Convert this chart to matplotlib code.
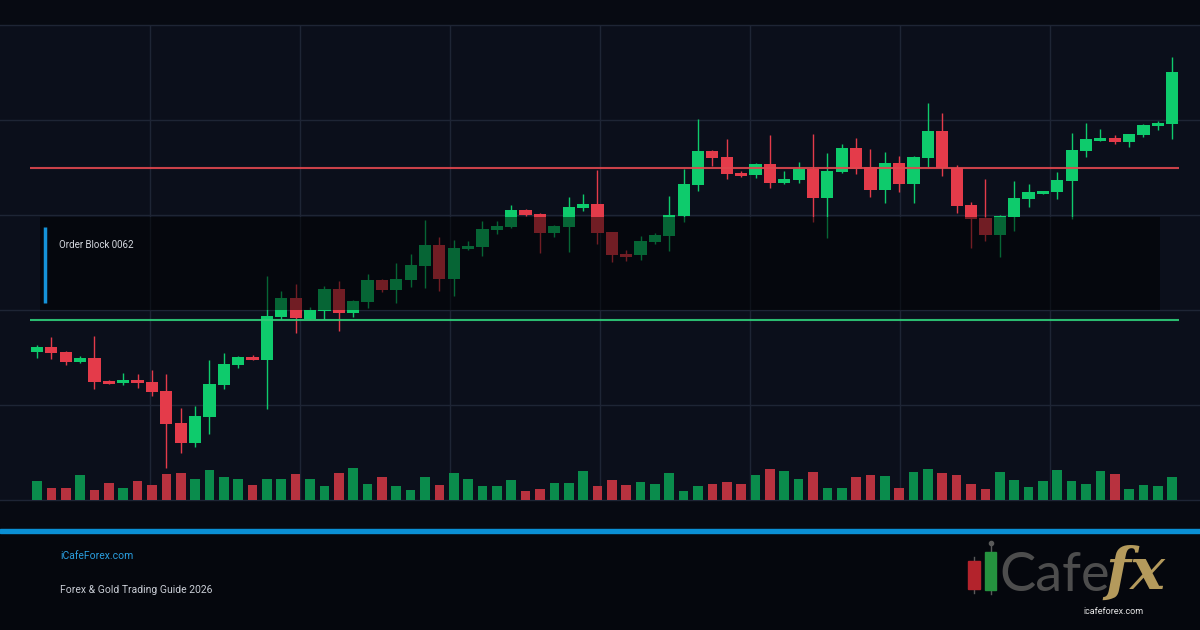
import matplotlib
matplotlib.use('Agg')
import matplotlib.pyplot as plt
from matplotlib.patches import Rectangle
from matplotlib.lines import Line2D
import numpy as np

# OHLC prices (80 candles)
opens = [2014.8, 2015.3, 2014.8, 2013.8, 2014.2, 2011.9, 2011.7, 2012.0, 2011.8, 2010.9,
         2007.7, 2005.7, 2008.3, 2011.5, 2013.5, 2014.3, 2014.0, 2018.3, 2020.2, 2018.1,
         2018.9, 2021.1, 2018.7, 2019.8, 2022.0, 2021.0, 2022.0, 2023.4, 2025.5, 2022.1,
         2025.1, 2025.3, 2027.0, 2027.3, 2029.0, 2028.6, 2026.7, 2027.3, 2029.2, 2029.6,
         2026.8, 2024.6, 2024.5, 2025.8, 2026.4, 2028.4, 2031.5, 2034.9, 2034.3, 2032.7,
         2032.5, 2033.6, 2031.7, 2032.0, 2033.1, 2030.2, 2032.8, 2035.2, 2033.3, 2031.0,
         2033.7, 2031.6, 2034.2, 2036.9, 2033.2, 2029.5, 2028.2, 2026.5, 2028.3, 2030.1,
         2030.6, 2030.8, 2031.9, 2034.9, 2035.9, 2036.2, 2035.8, 2036.5, 2037.4, 2037.6]
closes = [2015.3, 2014.7, 2013.8, 2014.2, 2011.8, 2011.6, 2012.0, 2011.7, 2010.8, 2007.6,
          2005.7, 2008.4, 2011.6, 2013.6, 2014.3, 2014.0, 2018.4, 2020.2, 2018.2, 2019.0,
          2021.1, 2018.7, 2019.9, 2022.0, 2021.0, 2022.1, 2023.5, 2025.5, 2022.1, 2025.2,
          2025.4, 2027.1, 2027.4, 2029.0, 2028.5, 2026.7, 2027.4, 2029.3, 2029.6, 2026.7,
          2024.5, 2024.3, 2025.9, 2026.5, 2028.5, 2031.6, 2034.9, 2034.2, 2032.6, 2032.4,
          2033.6, 2031.7, 2032.1, 2033.1, 2030.2, 2032.9, 2035.2, 2033.1, 2031.0, 2033.7,
          2031.6, 2034.3, 2036.9, 2033.2, 2029.4, 2028.1, 2026.5, 2028.4, 2030.2, 2030.8,
          2030.9, 2032.0, 2035.0, 2036.1, 2036.2, 2035.8, 2036.6, 2037.5, 2037.7, 2042.8]
highs = [2015.5, 2016.3, 2014.9, 2014.4, 2016.4, 2012.0, 2012.7, 2012.6, 2013.0, 2012.6,
         2009.2, 2009.4, 2014.0, 2014.7, 2014.4, 2014.5, 2022.4, 2020.9, 2021.6, 2019.3,
         2021.4, 2021.9, 2020.0, 2022.6, 2022.1, 2023.7, 2024.6, 2028.0, 2026.3, 2026.0,
         2025.9, 2027.9, 2027.9, 2029.5, 2029.1, 2028.7, 2027.5, 2030.3, 2030.6, 2033.0,
         2026.8, 2025.0, 2026.4, 2026.7, 2030.4, 2033.1, 2038.1, 2035.0, 2036.1, 2032.9,
         2033.7, 2036.5, 2032.9, 2033.8, 2036.6, 2034.7, 2035.6, 2036.2, 2035.1, 2034.8,
         2034.4, 2034.4, 2039.7, 2038.7, 2033.5, 2029.8, 2032.1, 2028.5, 2031.9, 2031.6,
         2030.9, 2032.8, 2036.7, 2037.7, 2037.1, 2036.5, 2036.6, 2037.6, 2037.9, 2044.3]
lows = [2014.2, 2014.1, 2013.5, 2013.7, 2011.1, 2011.6, 2011.5, 2011.2, 2010.4, 2003.2,
        2004.7, 2005.3, 2006.6, 2011.1, 2013.2, 2014.0, 2009.1, 2018.1, 2016.7, 2018.1,
        2018.1, 2016.9, 2018.3, 2019.2, 2020.8, 2019.7, 2021.3, 2021.2, 2020.9, 2020.4,
        2025.0, 2024.4, 2026.6, 2027.2, 2028.4, 2024.7, 2026.3, 2024.8, 2028.9, 2025.6,
        2023.8, 2023.9, 2024.0, 2025.6, 2024.9, 2027.8, 2030.9, 2033.4, 2032.1, 2032.3,
        2032.2, 2031.2, 2031.6, 2031.7, 2027.8, 2026.2, 2032.7, 2032.6, 2030.3, 2029.7,
        2030.8, 2029.7, 2033.3, 2032.4, 2028.7, 2025.2, 2025.9, 2024.3, 2026.9, 2029.3,
        2030.6, 2030.1, 2028.1, 2034.3, 2035.9, 2035.6, 2035.3, 2036.3, 2037.0, 2036.1]
volumes = [19, 12, 12, 25, 10, 17, 12, 19, 15, 26, 27, 21, 30, 23, 21, 15, 21, 21, 26, 21,
           14, 27, 32, 16, 23, 14, 10, 23, 15, 27, 21, 14, 14, 20, 9, 11, 17, 17, 29, 14,
           20, 15, 18, 16, 27, 9, 14, 16, 18, 16, 25, 31, 29, 21, 28, 12, 12, 23, 25, 24,
           12, 28, 31, 27, 25, 16, 11, 28, 20, 13, 19, 30, 19, 16, 29, 26, 11, 15, 14, 23]

resistance = 2033.2
support = 2018.0
zone_low, zone_high = 2019.0, 2028.3
zone_label = "Order Block 0062"
site_label = "iCafeForex.com"
guide_label = "Forex & Gold Trading Guide 2026"

FIG_BG = '#070a12'
CHART_BG = '#0b0f1b'
GREEN = '#0ecb6c'
RED = '#e43b4a'
VOL_GREEN = '#0a8c4c'
VOL_RED = '#b8323f'
GRID = '#1e2535'

idx = np.arange(len(opens))
o = np.array(opens)
c = np.array(closes)
up = c >= o

fig = plt.figure(figsize=(12, 6.3), dpi=100)
fig.patch.set_facecolor(FIG_BG)

# darker footer band and blue separator
fig.patches.append(Rectangle((0, 0), 1, 97 / 630, transform=fig.transFigure,
                             color='#05070d', zorder=0))
fig.patches.append(Rectangle((0, 97 / 630), 1, 4 / 630, transform=fig.transFigure,
                             color='#0a8fd4', zorder=1))

# price panel: 25px .. 500px from the top
ax = fig.add_axes([0, 130 / 630, 1, 475 / 630])
ax.set_facecolor(CHART_BG)
xmin = -37 / 14.37
xmax = xmin + 1200 / 14.37
ax.set_xlim(xmin, xmax)
ax.set_ylim(2000, 2047.5)
ax.set_xticks(xmin + np.arange(1, 8) * (xmax - xmin) / 8)
ax.set_yticks(2000 + np.arange(1, 5) * 9.5)
ax.grid(True, color=GRID, lw=1.0)
ax.tick_params(length=0, labelbottom=False, labelleft=False)
for side, s in ax.spines.items():
    if side in ('top', 'bottom'):
        s.set_color(GRID)
        s.set_linewidth(1.0)
    else:
        s.set_visible(False)

# candles
colors = np.where(up, GREEN, RED)
ax.vlines(idx, lows, highs, colors=colors, lw=1.0, zorder=2)
ax.bar(idx, np.maximum(np.abs(c - o), 0.3), bottom=np.minimum(o, c), width=0.85,
       color=colors, zorder=2.5)

# order block zone
ax.add_patch(Rectangle((0.2, zone_low), 77.95, zone_high - zone_low,
                       facecolor='black', alpha=0.5, lw=0, zorder=3))
ax.plot([0.56, 0.56], [zone_low + 0.7, zone_high - 1.0], color='#1592d8', lw=2.5,
        solid_capstyle='butt', zorder=4)
ax.text(1.55, zone_high - 2.8, zone_label, color='#d6d9e0', fontsize=7,
        family='Roboto', va='center', ha='left', zorder=5)

# key levels
ax.hlines(resistance, -0.5, 79.5, color='#e0474f', lw=1.5, alpha=0.9, zorder=4)
ax.hlines(support, -0.5, 79.5, color='#2fcf7a', lw=1.5, alpha=0.9, zorder=4)

# volume
vax = ax.twinx()
vax.set_ylim(0, 475)
vax.set_xlim(xmin, xmax)
vax.bar(idx, volumes, width=0.67, color=np.where(up, VOL_GREEN, VOL_RED), zorder=2)
vax.tick_params(length=0, labelright=False)
for s in vax.spines.values():
    s.set_visible(False)

# footer texts
fig.text(60 / 1200, 1 - 556 / 630, site_label, color='#2a9fe0', fontsize=7.5,
         family='Roboto', va='center')
fig.text(60 / 1200, 1 - 590 / 630, guide_label, color='#c9cdd5', fontsize=7.5,
         family='Roboto', va='center')

# logo: small candle icon, "Cafe" and "fx"
def fig_px(x, y):
    return x / 1200, 1 - y / 630

for x0, top, bot, wtop, wbot, col in [(968, 561, 589, 557, 593, '#b3232c'),
                                       (985, 552, 590, 544, 594, '#25933f')]:
    fig.add_artist(Line2D([fig_px(x0 + 6, 0)[0]] * 2,
                          [fig_px(0, wbot)[1], fig_px(0, wtop)[1]],
                          color='#5a5a5a', lw=1.0, zorder=2))
    fig.patches.append(Rectangle(fig_px(x0, bot), (11 if col == '#25933f' else 12) / 1200,
                                 (bot - top) / 630, transform=fig.transFigure,
                                 color=col, zorder=3))
fig.add_artist(Line2D([fig_px(991, 0)[0]], [fig_px(0, 543)[1]], marker='o', ms=3,
                      color='#5a5a5a', lw=0, zorder=2))

fig.text(999 / 1200, 1 - 591 / 630, "Cafe", color='#4d4d4d', fontsize=39,
         family='Lato', fontweight='normal', va='baseline')
fig.text(1105 / 1200, 1 - 589 / 630, "fx", color='#b49a5c', fontsize=42,
         family='DejaVu Serif', style='italic', fontweight='bold', va='baseline')
fig.text(1113 / 1200, 1 - 611 / 630, "icafeforex.com", color='#e6e6e6', fontsize=6.5,
         family='Roboto', ha='center', va='center')

fig.savefig('out.png', dpi=100, facecolor=fig.get_facecolor())
